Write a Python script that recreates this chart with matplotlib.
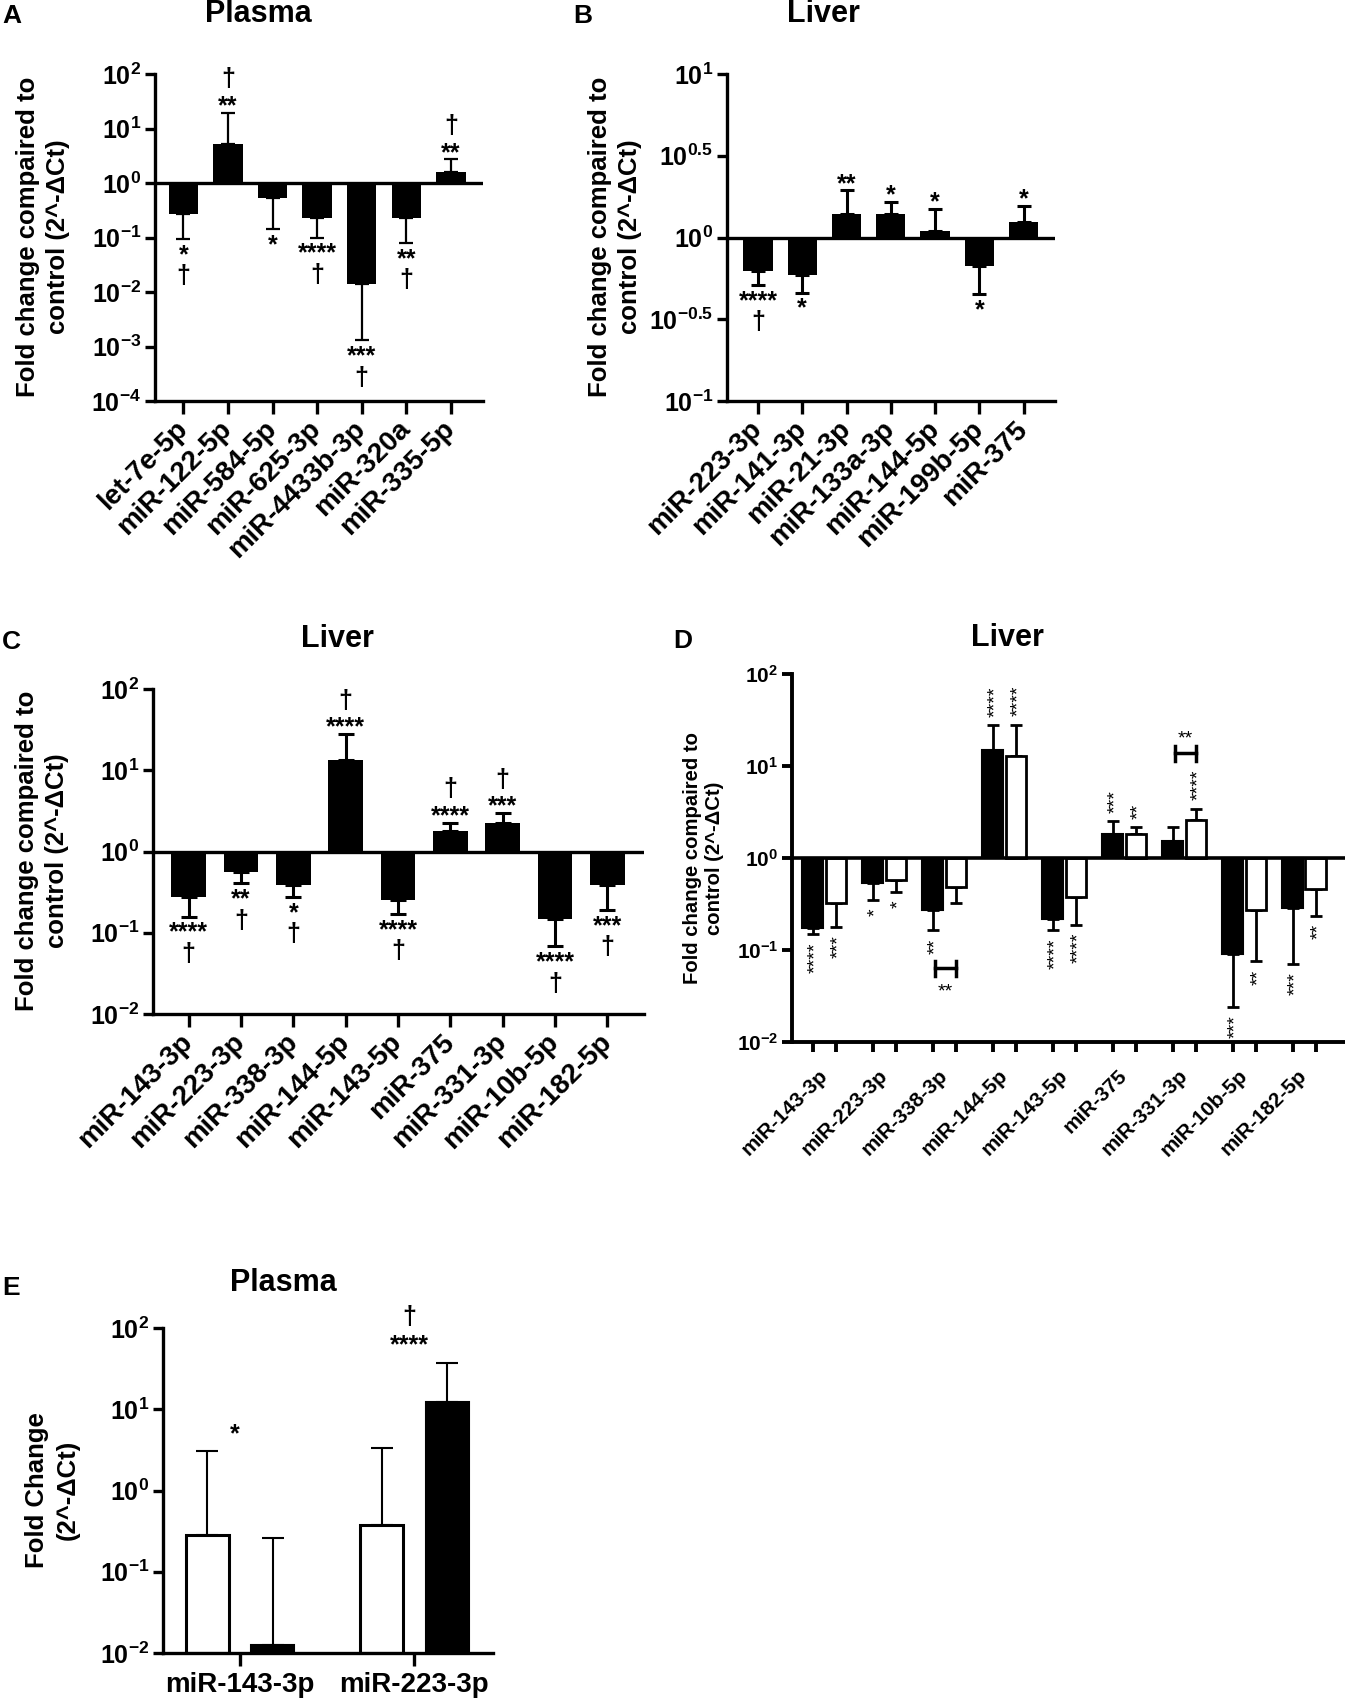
import numpy as np
import matplotlib
matplotlib.use("Agg")
import matplotlib.pyplot as plt
from matplotlib.ticker import NullLocator

plt.rcParams['font.family'] = ['Liberation Sans', 'DejaVu Sans']
plt.rcParams['font.weight'] = 'bold'
plt.rcParams['mathtext.fontset'] = 'custom'
plt.rcParams['mathtext.rm'] = 'Liberation Sans:bold'
plt.rcParams['mathtext.it'] = 'Liberation Sans:bold'
plt.rcParams['mathtext.bf'] = 'Liberation Sans:bold'
plt.rcParams['mathtext.default'] = 'bf'

# ---- A: plasma
a_labels = ['let-7e-5p', 'miR-122-5p', 'miR-584-5p', 'miR-625-3p',
            'miR-4433b-3p', 'miR-320a', 'miR-335-5p']
a_vals = [0.27, 5.2, 0.52, 0.23, 0.014, 0.224, 1.6]
a_errs = [0.094, 19.6, 0.143, 0.10, 0.0013, 0.079, 2.72]
a_stars = ['*', '**', '*', '****', '***', '**', '**']
a_dagger = [True, True, False, True, True, True, True]

# ---- B: liver
b_labels = ['miR-223-3p', 'miR-141-3p', 'miR-21-3p', 'miR-133a-3p',
            'miR-144-5p', 'miR-199b-5p', 'miR-375']
b_vals = [0.628, 0.588, 1.39, 1.39, 1.10, 0.67, 1.24]
b_errs = [0.514, 0.46, 1.94, 1.66, 1.49, 0.45, 1.56]
b_stars = ['****', '*', '**', '*', '*', '*', '*']
b_dagger = [True, False, False, False, False, False, False]

# ---- C: liver
c_labels = ['miR-143-3p', 'miR-223-3p', 'miR-338-3p', 'miR-144-5p',
            'miR-143-5p', 'miR-375', 'miR-331-3p', 'miR-10b-5p', 'miR-182-5p']
c_vals = [0.277, 0.567, 0.389, 13.2, 0.254, 1.80, 2.25, 0.148, 0.392]
c_errs = [0.158, 0.407, 0.277, 27.8, 0.171, 2.27, 2.96, 0.068, 0.191]
c_stars = ['****', '**', '*', '****', '****', '****', '***', '****', '***']
c_dagger = [True] * 9

# ---- D: liver, two groups
d_labels = c_labels
d_black = [0.174, 0.535, 0.272, 15.1, 0.219, 1.81, 1.52, 0.091, 0.288]
d_black_err = [0.15, 0.353, 0.163, 27.7, 0.166, 2.5, 2.17, 0.024, 0.07]
d_white = [0.324, 0.582, 0.484, 12.8, 0.377, 1.81, 2.61, 0.27, 0.464]
d_white_err = [0.18, 0.424, 0.327, 28.1, 0.189, 2.17, 3.44, 0.076, 0.236]
d_black_stars = ['****', '*', '**', '****', '****', '***', '', '***', '***']
d_white_stars = ['***', '*', '', '****', '****', '**', '****', '**', '**']
d_pairs = [2, 6]          # groups with a black-vs-white comparison
d_pair_stars = ['**', '**']

# ---- E: plasma
e_labels = ['miR-143-3p', 'miR-223-3p']
e_white = [0.282, 0.371]
e_white_err = [3.02, 3.32]
e_black = [0.0126, 12.45]
e_black_err = [0.259, 36.9]
e_stars = ['*', '****']
e_dagger = [False, True]

W, H = 1345, 1702
fig = plt.figure(figsize=(W / 100, H / 100), dpi=100)


def axes_px(left, right, top, bottom):
    return fig.add_axes([left / W, 1 - bottom / H, (right - left) / W, (bottom - top) / H])


def fig_text(x, y, s, **kw):
    fig.text(x / W, 1 - y / H, s, **kw)


def style(ax, exps, tick_fs, spine_lw=2.4):
    ax.set_yscale('log')
    ax.set_ylim(10.0 ** exps[0], 10.0 ** exps[-1])
    ax.set_yticks([10.0 ** e for e in exps])
    ax.set_yticklabels([r'$10^{%g}$' % e for e in exps], fontsize=tick_fs)
    ax.yaxis.set_minor_locator(NullLocator())
    for s in ['top', 'right']:
        ax.spines[s].set_visible(False)
    for s in ['left', 'bottom']:
        ax.spines[s].set_linewidth(spine_lw)
    ax.tick_params(axis='y', length=7, width=spine_lw, pad=3)


def one_sided(vals, errs, base=1.0):
    vals = np.array(vals)
    errs = np.array(errs)
    lower = np.where(vals < base, vals - errs, 0)
    upper = np.where(vals >= base, errs - vals, 0)
    return [lower, upper]


def mark(ax, x, y, down, star, dagger, fs=18):
    # stars and dagger stacked in one text, away from the baseline
    if down:
        s = star + ('\n\u2020' if dagger else '')
        ax.annotate(s, (x, y), xytext=(0, -3), textcoords='offset points',
                    ha='center', va='top', fontsize=fs, fontweight='bold',
                    linespacing=0.85)
    else:
        s = ('\u2020\n' if dagger else '') + star
        ax.annotate(s, (x, y), xytext=(0, -4), textcoords='offset points',
                    ha='center', va='bottom', fontsize=fs, fontweight='bold',
                    linespacing=1.15)


def simple_panel(ax, labels, vals, errs, stars, daggers, exps, xlim, cap, elw):
    x = np.arange(len(labels))
    vals = np.array(vals)
    ax.bar(x, vals - 1, bottom=1, width=0.66, color='black', zorder=2)
    ax.errorbar(x, vals, yerr=one_sided(vals, errs), fmt='none', ecolor='black',
                elinewidth=elw, capsize=cap, capthick=elw, zorder=1)
    ax.axhline(1, color='black', lw=2.4, zorder=3)
    style(ax, exps, 18)
    ax.set_xlim(*xlim)
    ax.set_xticks(x)
    ax.set_xticklabels(labels, rotation=45, ha='right', va='center',
                       rotation_mode='anchor', fontsize=20)
    ax.tick_params(axis='x', length=9.5, width=2.4, pad=8)
    for xi, v, e, s, d in zip(x, vals, errs, stars, daggers):
        mark(ax, xi, e, v < 1, s, d)


ylab = 'Fold change compaired to\ncontrol (2^-\u0394Ct)'

# A
axA = axes_px(155, 483, 74, 401)
simple_panel(axA, a_labels, a_vals, a_errs, a_stars, a_dagger,
             [-4, -3, -2, -1, 0, 1, 2], (-0.635, 6.72), 4.7, 1.6)
fig_text(2, 16, 'A', fontsize=19, ha='left', va='center')
fig_text(258, 14, 'Plasma', fontsize=22, ha='center', va='center')
fig_text(43, 237, ylab, fontsize=18.5, rotation=90, ha='center', va='center',
         linespacing=1.35)

# B
axB = axes_px(727, 1055, 74, 401)
simple_panel(axB, b_labels, b_vals, b_errs, b_stars, b_dagger,
             [-1, -0.5, 0, 0.5, 1], (-0.70, 6.71), 4.7, 2.2)
fig_text(573, 16, 'B', fontsize=19, ha='left', va='center')
fig_text(823, 14, 'Liver', fontsize=22, ha='center', va='center')
fig_text(615, 237, ylab, fontsize=18.5, rotation=90, ha='center', va='center',
         linespacing=1.35)

# C
axC = axes_px(153, 644, 689, 1014)
simple_panel(axC, c_labels, c_vals, c_errs, c_stars, c_dagger,
             [-2, -1, 0, 1, 2], (-0.68, 8.7), 6, 2.2)
fig_text(2, 642, 'C', fontsize=19, ha='left', va='center')
fig_text(337, 639, 'Liver', fontsize=22, ha='center', va='center')
fig_text(42, 851, ylab, fontsize=18.5, rotation=90, ha='center', va='center',
         linespacing=1.35)

# D
axD = axes_px(792, 1345, 674, 1042)
g = np.arange(len(d_labels))
xb = g - 0.194
xw = g + 0.194
d_black_a = np.array(d_black)
d_white_a = np.array(d_white)
axD.bar(xb, d_black_a - 1, bottom=1, width=0.345, color='black',
        edgecolor='black', linewidth=1.5, zorder=2)
axD.bar(xw, d_white_a - 1, bottom=1, width=0.345, color='white',
        edgecolor='black', linewidth=2, zorder=2)
axD.errorbar(xb, d_black_a, yerr=one_sided(d_black, d_black_err), fmt='none',
             ecolor='black', elinewidth=2, capsize=4.2, capthick=2, zorder=1)
axD.errorbar(xw, d_white_a, yerr=one_sided(d_white, d_white_err), fmt='none',
             ecolor='black', elinewidth=2, capsize=4.2, capthick=2, zorder=1)
axD.axhline(1, color='black', lw=2.6, zorder=3)
style(axD, [-2, -1, 0, 1, 2], 15, spine_lw=2.8)
axD.set_xlim(-0.538, 8.68)
axD.set_xticks(g)
axD.set_xticklabels(d_labels, rotation=45, ha='right', va='center',
                    rotation_mode='anchor', fontsize=15)
axD.tick_params(axis='x', which='major', length=0, pad=22)
axD.set_xticks(np.sort(np.concatenate([xb, xw])), minor=True)
axD.tick_params(axis='x', which='minor', length=7, width=2.8)
for xs, vs, es, ss in [(xb, d_black, d_black_err, d_black_stars),
                       (xw, d_white, d_white_err, d_white_stars)]:
    for xi, v, e, s in zip(xs, vs, es, ss):
        if not s:
            continue
        down = v < 1
        axD.annotate(s, (xi, e), xytext=(2, -6 if down else 6),
                     textcoords='offset points', ha='center',
                     va='top' if down else 'bottom', rotation=90,
                     fontsize=14, fontweight='normal')
for k, s in zip(d_pairs, d_pair_stars):
    down = d_black[k] < 1
    if down:
        yb = min(d_black_err[k], d_white_err[k]) * 10 ** -0.41
    else:
        yb = max(d_black_err[k], d_white_err[k]) * 10 ** 0.6
    axD.plot([xb[k] + 0.04, xw[k]], [yb, yb], color='black', lw=2.5)
    for xe in (xb[k] + 0.04, xw[k]):
        axD.plot([xe, xe], [yb * 10 ** -0.08, yb * 10 ** 0.08], color='black', lw=2.5)
    axD.annotate(s, ((xb[k] + xw[k]) / 2 + 0.02, yb), xytext=(0, -20 if down else 7),
                 textcoords='offset points', ha='center', va='baseline',
                 fontsize=14, fontweight='normal')
fig_text(673, 641, 'D', fontsize=19, ha='left', va='center')
fig_text(1007, 638, 'Liver', fontsize=22, ha='center', va='center')
fig_text(703, 858, ylab, fontsize=14.6, rotation=90, ha='center', va='center',
         linespacing=1.2)

# E
axE = axes_px(163, 493, 1328, 1653)
ge = np.arange(len(e_labels))
ew = ge - 0.1875
eb = ge + 0.1875
e_white_a = np.array(e_white)
e_black_a = np.array(e_black)
axE.bar(ew, e_white_a - 0.01, bottom=0.01, width=0.247, color='white',
        edgecolor='black', linewidth=2.2, zorder=2)
axE.bar(eb, e_black_a - 0.01, bottom=0.01, width=0.247, color='black',
        edgecolor='black', linewidth=1.5, zorder=2)
axE.errorbar(ew, e_white_a, yerr=[np.zeros(2), np.array(e_white_err) - e_white_a],
             fmt='none', ecolor='black', elinewidth=1.5, capsize=8, capthick=1.5, zorder=1)
axE.errorbar(eb, e_black_a, yerr=[np.zeros(2), np.array(e_black_err) - e_black_a],
             fmt='none', ecolor='black', elinewidth=1.5, capsize=8, capthick=1.5, zorder=1)
style(axE, [-2, -1, 0, 1, 2], 18)
axE.set_xlim(-0.44, 1.45)
axE.set_xticks(ge)
axE.set_xticklabels(e_labels, fontsize=20)
axE.tick_params(axis='x', length=9.5, width=2.4, pad=4)
for k in ge:
    top = max(e_white_err[k], e_black_err[k])
    s = ('\u2020\n' if e_dagger[k] else '') + e_stars[k]
    axE.annotate(s, (k - 0.03, top), xytext=(0, 4),
                 textcoords='offset points', ha='center', va='bottom',
                 fontsize=18, fontweight='bold', linespacing=1.25)
fig_text(2, 1288, 'E', fontsize=19, ha='left', va='center')
fig_text(283, 1283, 'Plasma', fontsize=22, ha='center', va='center')
fig_text(52, 1490, 'Fold Change\n(2^-\u0394Ct)', fontsize=18.5, rotation=90,
         ha='center', va='center', linespacing=1.35)

fig.savefig('out.png', dpi=100)
